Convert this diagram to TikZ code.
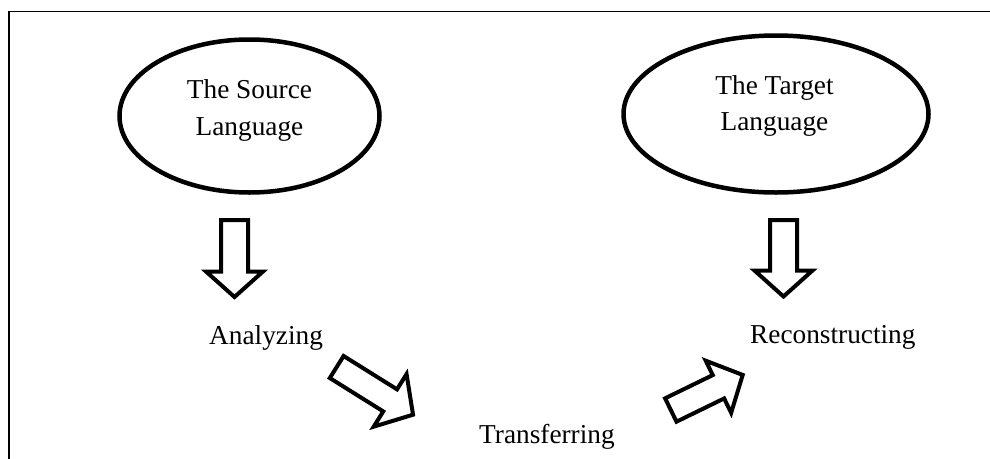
\documentclass[tikz,border=0pt]{standalone}
\usepackage{fontspec}
\setmainfont{Liberation Serif}
\usetikzlibrary{shapes.geometric}
\tikzset{
  langellipse/.style={ellipse, draw, line width=4.5pt, inner sep=0pt},
  langtext/.style={align=center, inner sep=0pt, font=\fontsize{27.3}{36.5}\selectfont},
  steptext/.style={anchor=base west, inner sep=0pt, font=\fontsize{27.3}{36.5}\selectfont},
  arrowline/.style={draw, line width=4pt, line join=miter, miter limit=10},
  framebox/.style={draw, line width=1.8pt}
}
% #1 x, #2 y, #3 angle, #4 shaft length, #5 head length, #6 shaft half width, #7 head half width
\newcommand\hollowarr[7]{%
  \begin{scope}[shift={(#1,#2)}, rotate=#3]
    \path[arrowline] (0,-#6) -- (#4,-#6) -- (#4,-#7) -- ({#4+#5},0) -- (#4,#7) -- (#4,#6) -- (0,#6) -- cycle;
  \end{scope}}
\begin{document}
\begin{tikzpicture}[x=1pt, y=-1pt]
  \useasboundingbox (0,0) rectangle (990,458);
  \clip (0,0) rectangle (990,458);
  \path[framebox] (9,11.5) rectangle (1010,480);

  \node[langellipse, minimum width=260pt, minimum height=153pt] (src) at (249.5,116) {};
  \node[langtext] (srctext) at (249.5,110.3) {The Source\\Language};
  \node[langellipse, minimum width=305pt, minimum height=157pt] (tgt) at (776,114) {};
  \node[langtext] (tgttext) at (774.5,106) {The Target\\Language};

  \node[steptext] (ana) at (209,344) {Analyzing};
  \node[steptext] (rec) at (750,343) {Reconstructing};
  \node[steptext] (tra) at (479,443) {Transferring};

  \hollowarr{234.5}{220}{-90}{51.5}{25.5}{13.5}{28.5}
  \hollowarr{783.5}{220}{-90}{50.5}{26}{13.5}{29}
  \hollowarr{336.7}{367}{-32}{63}{27}{13}{31}
  \hollowarr{670.8}{410}{26}{53}{27}{13}{29}
\end{tikzpicture}
\end{document}
